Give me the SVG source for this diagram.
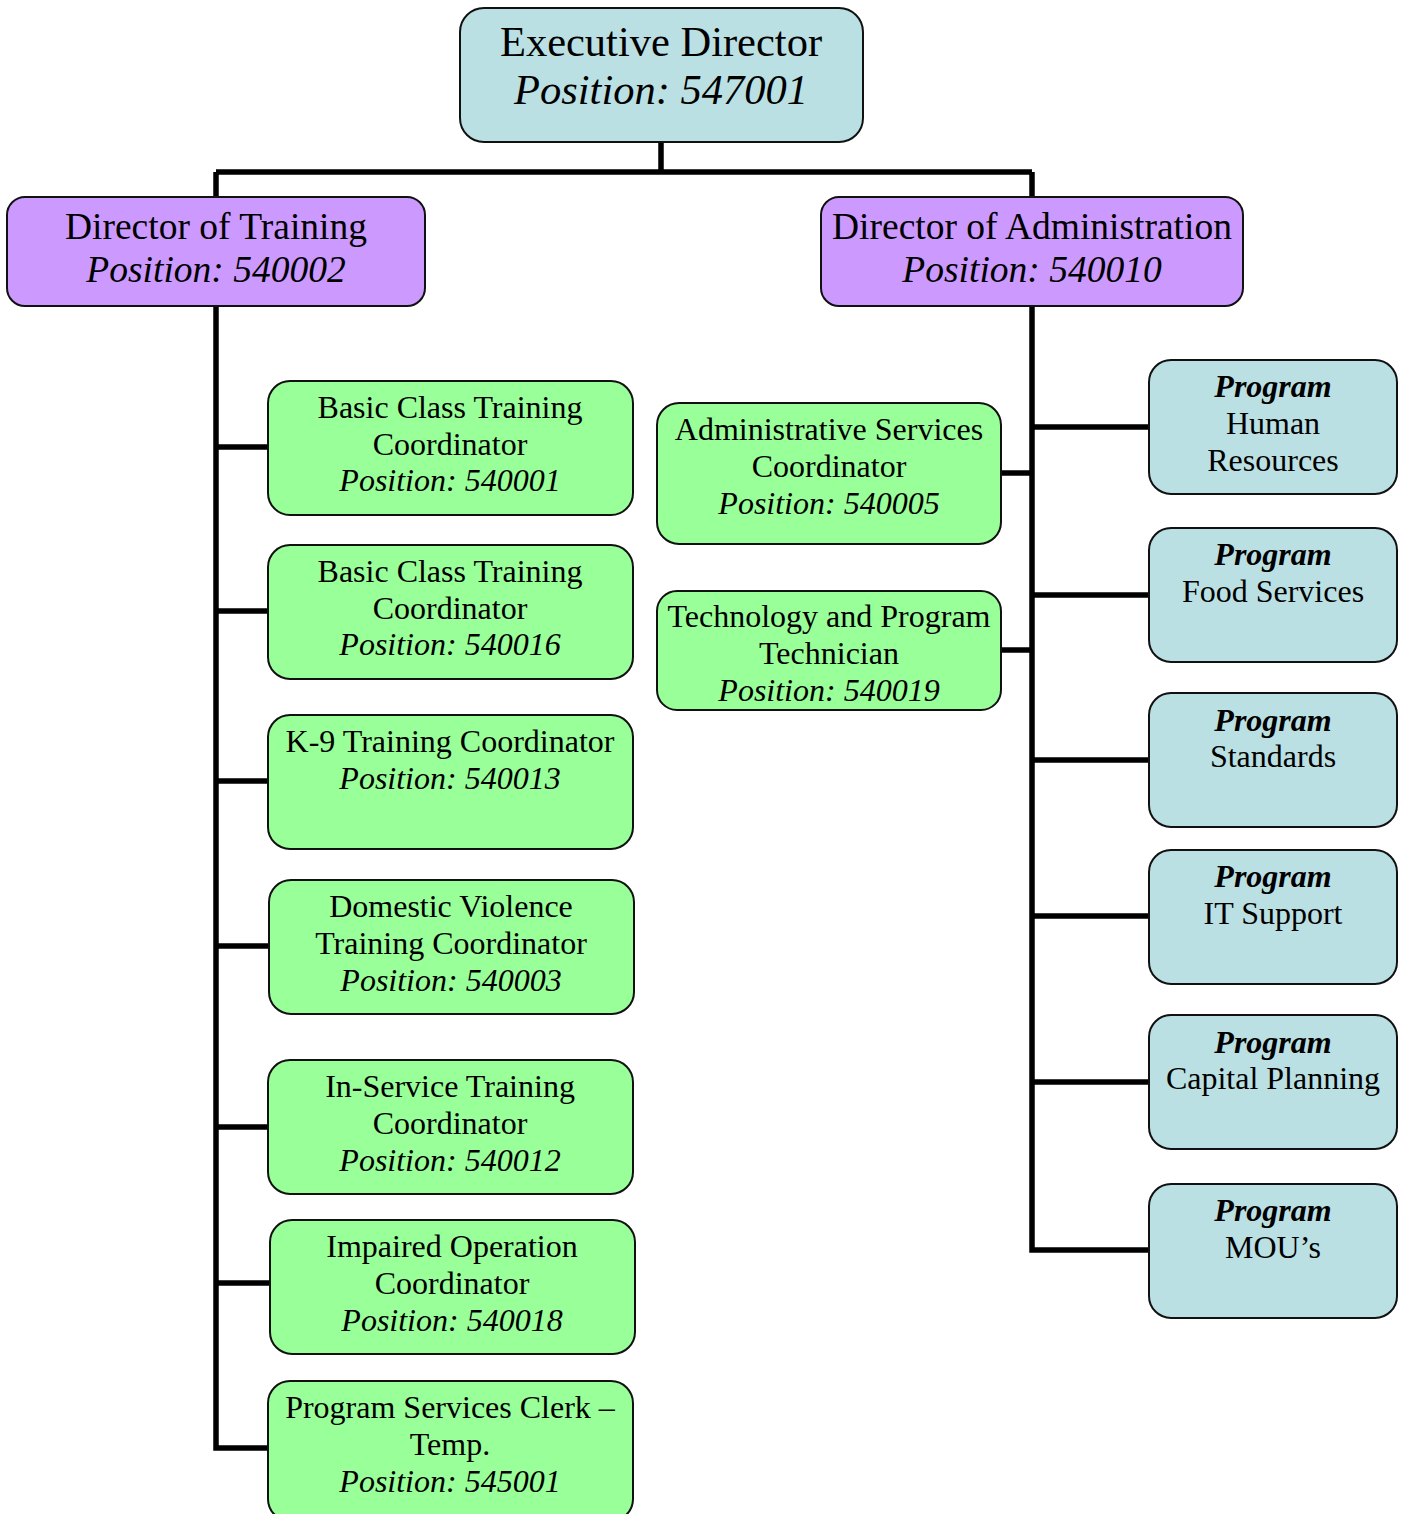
<svg xmlns="http://www.w3.org/2000/svg" width="1406" height="1514" viewBox="0 0 1406 1514">
<style>
.box{stroke:#111;stroke-width:2}
.blue{fill:#BBE0E3}
.purple{fill:#CC99FF}
.green{fill:#99FF99}
text{font-family:"Liberation Serif","Times New Roman",serif;fill:#000;text-anchor:middle}
.big{font-size:42.5px}
.mid{font-size:37.5px}
.sm{font-size:32px}
.it{font-style:italic}
.bi{font-style:italic;font-weight:bold}
.conn{stroke:#000;stroke-width:5.5;fill:none}
</style>
<rect width="1406" height="1514" fill="#fff"/>
<g id="connectors">
<path class="conn" d="M661 142V172M216 172H1032M216 172V197M1032 172V197"/>
<path class="conn" d="M216 306V1448H268M216 447H268M216 611H268M216 781H268M216 946H268M216 1127H268M216 1283H270"/>
<path class="conn" d="M1032 306V1250H1149M1032 427H1149M1032 595H1149M1032 760H1149M1032 916H1149M1032 1082H1149M1032 473H1001M1032 650H1001"/>
</g>
<g id="exec"><rect class="box blue" x="460" y="8" width="403" height="134" rx="24"/>
<text class="big" x="661" y="56">Executive Director</text><text class="big it" x="661" y="104">Position: 547001</text></g>
<g id="dir-training"><rect class="box purple" x="7" y="197" width="418" height="109" rx="18"/>
<text class="mid" x="216" y="239">Director of Training</text><text class="mid it" x="216" y="282">Position: 540002</text></g>
<g id="dir-admin"><rect class="box purple" x="821" y="197" width="422" height="109" rx="18"/>
<text class="mid" x="1032" y="239">Director of Administration</text><text class="mid it" x="1032" y="282">Position: 540010</text></g>
<g id="basic1"><rect class="box green" x="268" y="381" width="365" height="134" rx="22"/>
<text class="sm" x="450" y="418">Basic Class Training</text><text class="sm" x="450" y="455">Coordinator</text><text class="sm it" x="450" y="491">Position: 540001</text></g>
<g id="basic2"><rect class="box green" x="268" y="545" width="365" height="134" rx="22"/>
<text class="sm" x="450" y="582">Basic Class Training</text><text class="sm" x="450" y="619">Coordinator</text><text class="sm it" x="450" y="655">Position: 540016</text></g>
<g id="k9"><rect class="box green" x="268" y="715" width="365" height="134" rx="22"/>
<text class="sm" x="450" y="752">K-9 Training Coordinator</text><text class="sm it" x="450" y="789">Position: 540013</text></g>
<g id="dv"><rect class="box green" x="269" y="880" width="365" height="134" rx="22"/>
<text class="sm" x="451" y="917">Domestic Violence</text><text class="sm" x="451" y="954">Training Coordinator</text><text class="sm it" x="451" y="991">Position: 540003</text></g>
<g id="inservice"><rect class="box green" x="268" y="1060" width="365" height="134" rx="22"/>
<text class="sm" x="450" y="1097">In-Service Training</text><text class="sm" x="450" y="1134">Coordinator</text><text class="sm it" x="450" y="1171">Position: 540012</text></g>
<g id="impaired"><rect class="box green" x="270" y="1220" width="365" height="134" rx="22"/>
<text class="sm" x="452" y="1257">Impaired Operation</text><text class="sm" x="452" y="1294">Coordinator</text><text class="sm it" x="452" y="1331">Position: 540018</text></g>
<g id="clerk"><rect class="box green" x="268" y="1381" width="365" height="140" rx="22"/>
<text class="sm" x="450" y="1418">Program Services Clerk –</text><text class="sm" x="450" y="1455">Temp.</text><text class="sm it" x="450" y="1492">Position: 545001</text></g>
<g id="adminsvc"><rect class="box green" x="657" y="403" width="344" height="141" rx="22"/>
<text class="sm" x="829" y="440">Administrative Services</text><text class="sm" x="829" y="477">Coordinator</text><text class="sm it" x="829" y="514">Position: 540005</text></g>
<g id="tech"><rect class="box green" x="657" y="591" width="344" height="119" rx="20"/>
<text class="sm" x="829" y="627">Technology and Program</text><text class="sm" x="829" y="664">Technician</text><text class="sm it" x="829" y="701">Position: 540019</text></g>
<g id="hr"><rect class="box blue" x="1149" y="360" width="248" height="134" rx="22"/>
<text class="sm bi" x="1273" y="397">Program</text><text class="sm" x="1273" y="434">Human</text><text class="sm" x="1273" y="471">Resources</text></g>
<g id="food"><rect class="box blue" x="1149" y="528" width="248" height="134" rx="22"/>
<text class="sm bi" x="1273" y="565">Program</text><text class="sm" x="1273" y="602">Food Services</text></g>
<g id="standards"><rect class="box blue" x="1149" y="693" width="248" height="134" rx="22"/>
<text class="sm bi" x="1273" y="731">Program</text><text class="sm" x="1273" y="767">Standards</text></g>
<g id="it"><rect class="box blue" x="1149" y="850" width="248" height="134" rx="22"/>
<text class="sm bi" x="1273" y="887">Program</text><text class="sm" x="1273" y="924">IT Support</text></g>
<g id="capital"><rect class="box blue" x="1149" y="1015" width="248" height="134" rx="22"/>
<text class="sm bi" x="1273" y="1053">Program</text><text class="sm" x="1273" y="1089">Capital Planning</text></g>
<g id="mou"><rect class="box blue" x="1149" y="1184" width="248" height="134" rx="22"/>
<text class="sm bi" x="1273" y="1221">Program</text><text class="sm" x="1273" y="1258">MOU’s</text></g>
</svg>
